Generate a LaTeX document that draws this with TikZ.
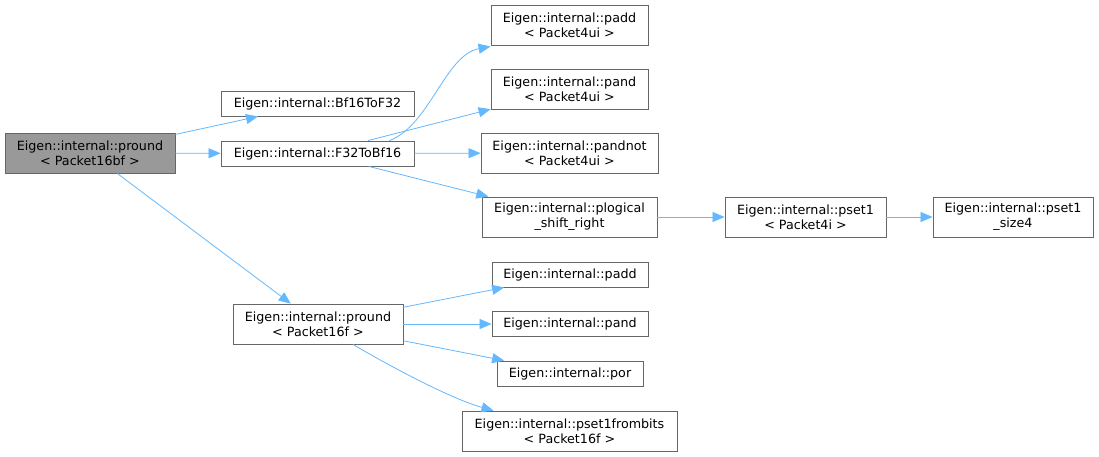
\documentclass[tikz,border=0pt]{standalone}
\usepackage{fontspec}
\setmainfont{DejaVu Sans}
\usepackage{tikz}
\usetikzlibrary{arrows.meta,positioning}
\definecolor{boxline}{HTML}{666666}
\definecolor{rootfill}{HTML}{999999}
\definecolor{edgeblue}{HTML}{63B8FF}
\tikzset{
  fnbox/.style={draw=boxline,fill=white,line width=0.9pt,align=center,
                inner sep=0pt,minimum height=25pt,font=\fontsize{12.7}{15}\selectfont},
  twoline/.style={fnbox,minimum height=40pt},
  rootbox/.style={twoline,fill=rootfill},
  calls/.style={-{Triangle[length=12pt,width=10pt]},line width=0.8pt,draw=edgeblue}
}
\begin{document}
\begin{tikzpicture}[x=1pt,y=-1pt]
    \path[use as bounding box,fill=white] (0,0) rectangle (1099,456);
    % first column
    \node[rootbox,minimum width=170pt] (pround16bf) at (90,153)
      {Eigen::internal::pround\\< Packet16bf >};
    % second column
    \node[fnbox,minimum width=193pt] (bf2f) at (317.5,103.5)
      {Eigen::internal::Bf16ToF32};
    \node[fnbox,minimum width=193pt] (f2bf) at (317.5,153.5)
      {Eigen::internal::F32ToBf16};
    \node[twoline,minimum width=170pt] (pround16f) at (318,324)
      {Eigen::internal::pround\\< Packet16f >};
    % third column
    \node[twoline,minimum width=157pt] (padd4ui) at (569.5,25)
      {Eigen::internal::padd\\< Packet4ui >};
    \node[twoline,minimum width=157pt] (pand4ui) at (569.5,89)
      {Eigen::internal::pand\\< Packet4ui >};
    \node[twoline,minimum width=177pt] (pandnot) at (569.5,153)
      {Eigen::internal::pandnot\\< Packet4ui >};
    \node[twoline,minimum width=175pt] (plogical) at (569.5,217)
      {Eigen::internal::plogical\\\_shift\_right};
    \node[fnbox,minimum width=156pt] (padd) at (570,274.5)
      {Eigen::internal::padd};
    \node[fnbox,minimum width=156pt] (pand) at (570,324)
      {Eigen::internal::pand};
    \node[fnbox,minimum width=146pt] (por) at (570,373.5)
      {Eigen::internal::por};
    \node[twoline,minimum width=215pt] (pfrombits) at (569.5,431)
      {Eigen::internal::pset1frombits\\< Packet16f >};
    % last columns
    \node[twoline,minimum width=161pt] (pset4i) at (805.5,217)
      {Eigen::internal::pset1\\< Packet4i >};
    \node[twoline,minimum width=160pt] (psize4) at (1013,217)
      {Eigen::internal::pset1\\\_size4};
    % calls
    \draw[calls] (pround16bf) -- (bf2f);
    \draw[calls] (pround16bf) -- (f2bf);
    \draw[calls] (pround16bf) -- (pround16f);
    \draw[calls] ([xshift=72pt]f2bf.north) .. controls (430,125) and (445,55)
      .. ([yshift=-1pt]padd4ui.south west);
    \draw[calls] (f2bf) -- (pand4ui);
    \draw[calls] (f2bf) -- (pandnot);
    \draw[calls] (f2bf) -- (plogical);
    \draw[calls] (plogical) -- (pset4i);
    \draw[calls] (pset4i) -- (psize4);
    \draw[calls] (pround16f) -- (padd);
    \draw[calls] (pround16f) -- (pand);
    \draw[calls] (pround16f) -- (por);
    \draw[calls] ([xshift=35pt]pround16f.south) .. controls (400,372) and (455,400)
      .. ([xshift=-76pt]pfrombits.north);
  \end{tikzpicture}
\end{document}
